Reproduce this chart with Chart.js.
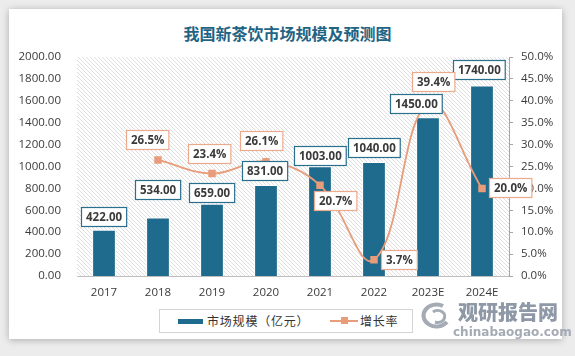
<!DOCTYPE html>
<html>
<head>
<meta charset="utf-8">
<script src="https://cdn.jsdelivr.net/npm/chart.js@4.4.1/dist/chart.umd.min.js"></script>
<style>
  html,body{margin:0;padding:0;}
  body{width:575px;height:356px;overflow:hidden;position:relative;background:#ECECEC;font-family:"Open Sans","Noto Sans CJK SC",sans-serif;}
  #card{position:absolute;left:9px;top:9px;width:553px;height:330px;background:#fff;box-shadow:0 1px 7px rgba(0,0,0,0.28);}
  #title{position:absolute;left:0;top:22px;width:575px;text-align:center;font-family:"Noto Sans CJK SC",sans-serif;font-weight:bold;font-size:16px;line-height:22px;color:#1F6483;}
  #c{position:absolute;left:0;top:0;}
  #legend{position:absolute;left:159px;top:309px;width:252px;height:22px;border:1px solid #D4D4D4;background:#fff;font-family:"Noto Sans CJK SC",sans-serif;font-size:12px;color:#333;letter-spacing:0.8px;}
  .lg{position:absolute;top:0;line-height:22px;white-space:nowrap;}
  #wm{position:absolute;left:413px;top:298px;width:155px;height:50px;pointer-events:none;}
  #wm .cn{position:absolute;left:45px;top:2px;font-family:"Noto Sans CJK SC",sans-serif;font-weight:900;font-size:20px;line-height:24px;color:#8E98A6;}
  #wm .en{position:absolute;left:40px;top:27px;font-family:"DejaVu Sans",sans-serif;font-weight:bold;font-size:12px;line-height:14px;color:#A4ABB5;}
</style>
</head>
<body>
<div id="card"></div>
<div id="title">我国新茶饮市场规模及预测图</div>
<canvas id="c" width="575" height="356"></canvas>
<div id="legend">
  <div style="position:absolute;left:18px;top:9px;width:25px;height:5px;background:#1F6B8D;"></div>
  <div class="lg" style="left:47px;">市场规模（亿元）</div>
  <div style="position:absolute;left:170px;top:10px;width:28px;height:2px;background:#E99C7A;"></div>
  <div style="position:absolute;left:181px;top:7px;width:7px;height:7px;background:#E99C7A;"></div>
  <div class="lg" style="left:200px;">增长率</div>
</div>
<div id="wm">
  <svg width="44" height="30" style="position:absolute;left:0;top:2px" viewBox="0 0 44 30">
    <path d="M30 6 A13 11 0 1 0 34 22" fill="none" stroke="#A4ABB5" stroke-width="4"/>
    <path d="M20 12 A7 6 0 1 1 22 22" fill="none" stroke="#A4ABB5" stroke-width="3"/>
  </svg>
  <div class="cn">观研报告网</div>
  <div class="en">chinabaogao.com</div>
</div>
<script>
// ---- data ----
const categories = ['2017','2018','2019','2020','2021','2022','2023E','2024E'];
const marketSize = [422, 534, 659, 831, 1003, 1040, 1450, 1740];
const growthRate = [null, 26.5, 23.4, 26.1, 20.7, 3.7, 39.4, 20.0];
const leftTicks = {min: 0, max: 2000, step: 200};
const rightTicks = {min: 0, max: 50, step: 5};

// ---- label placement (layout, px offsets of label centre from mark) ----
const barLabelOffsets = [[0,-13],[0,-28],[0,-11],[-1,-15],[0,-11],[0,-14.5],[-12,-14],[-3,-16]];
const rateLabelOffsets = [null,[-11,-20.5],[-3,-20],[-4.5,-21],[15,15],[24.5,0],[5.5,-22],[28,-1]];

const TEAL = '#1F6B8D';
const ORANGE = '#E99C7A';
const TXT = '#3A3A3A';

const hatchPlugin = {
  id: 'hatch',
  beforeDatasetsDraw(chart) {
    const {ctx, chartArea: a} = chart;
    ctx.save();
    ctx.beginPath();
    ctx.rect(a.left, a.top, a.right - a.left, a.bottom - a.top);
    ctx.clip();
    ctx.strokeStyle = '#D6D6D6';
    ctx.lineWidth = 0.8;
    const h = a.bottom - a.top;
    ctx.beginPath();
    for (let k = -h; k < a.right - a.left + 4; k += 4) {
      ctx.moveTo(a.left + k, a.top);
      ctx.lineTo(a.left + k + h, a.bottom);
    }
    ctx.stroke();
    ctx.restore();
  }
};

function drawBox(ctx, cx, cy, text, border) {
  ctx.font = 'bold 11.5px "Open Sans", sans-serif';
  const w = ctx.measureText(text).width + 9;
  const hgt = 19;
  const x = Math.round(cx - w / 2) + 0.5, y = Math.round(cy - hgt / 2) + 0.5;
  ctx.fillStyle = '#fff';
  ctx.fillRect(x, y, w, hgt);
  ctx.strokeStyle = border;
  ctx.lineWidth = 1.2;
  ctx.strokeRect(x, y, w, hgt);
  ctx.fillStyle = TXT;
  ctx.textAlign = 'center';
  ctx.textBaseline = 'middle';
  ctx.fillText(text, x + w / 2, y + hgt / 2 + 0.5);
}

const labelPlugin = {
  id: 'boxLabels',
  afterDatasetsDraw(chart) {
    const ctx = chart.ctx;
    ctx.save();
    const barMeta = chart.getDatasetMeta(0);
    barMeta.data.forEach((el, i) => {
      const o = barLabelOffsets[i];
      drawBox(ctx, el.x + o[0], el.y + o[1], marketSize[i].toFixed(2), '#2A6F8C');
    });
    const lineMeta = chart.getDatasetMeta(1);
    lineMeta.data.forEach((el, i) => {
      if (growthRate[i] === null) return;
      const o = rateLabelOffsets[i];
      drawBox(ctx, el.x + o[0], el.y + o[1], growthRate[i].toFixed(1) + '%', '#EBAA8D');
    });
    ctx.restore();
  }
};

const tickFont = {family: '"Open Sans", sans-serif', size: 11.5};

new Chart(document.getElementById('c'), {
  data: {
    labels: categories,
    datasets: [
      {
        type: 'bar', label: '市场规模（亿元）', data: marketSize, yAxisID: 'y',
        backgroundColor: TEAL, borderColor: '#ffffff', borderWidth: 1,
        categoryPercentage: 1.0, barPercentage: 0.44, order: 2
      },
      {
        type: 'line', label: '增长率', data: growthRate, yAxisID: 'y1',
        borderColor: ORANGE, backgroundColor: ORANGE, borderWidth: 1.8,
        tension: 0.4, pointStyle: 'rect', pointRadius: 4, pointHoverRadius: 4,
        spanGaps: false, order: 1
      }
    ]
  },
  options: {
    responsive: false,
    animation: false,
    layout: {padding: {top: 57, left: 0, right: 0, bottom: 0}},
    plugins: {legend: {display: false}, title: {display: false}, tooltip: {enabled: false}},
    scales: {
      x: {
        grid: {display: false, drawTicks: false},
        border: {display: true, color: '#BFBFBF', width: 1},
        ticks: {padding: 10, font: tickFont, color: TXT, maxRotation: 0, autoSkip: false},
        afterFit(s) { s.height = 80; }
      },
      y: {
        position: 'left', min: leftTicks.min, max: leftTicks.max,
        ticks: {stepSize: leftTicks.step, padding: 16, font: tickFont, color: TXT,
                callback: v => Number(v).toFixed(2)},
        grid: {display: false, drawTicks: false},
        border: {display: false},
        afterFit(s) { s.width = 77; }
      },
      y1: {
        position: 'right', min: rightTicks.min, max: rightTicks.max,
        ticks: {stepSize: rightTicks.step, padding: 8, font: tickFont, color: TXT,
                callback: v => Number(v).toFixed(1) + '%'},
        grid: {drawOnChartArea: false, drawTicks: true, tickLength: 4, color: '#A6A6A6'},
        border: {display: true, color: '#A6A6A6'},
        afterFit(s) { s.width = 66; }
      }
    }
  },
  plugins: [hatchPlugin, labelPlugin]
});
</script>
</body>
</html>
